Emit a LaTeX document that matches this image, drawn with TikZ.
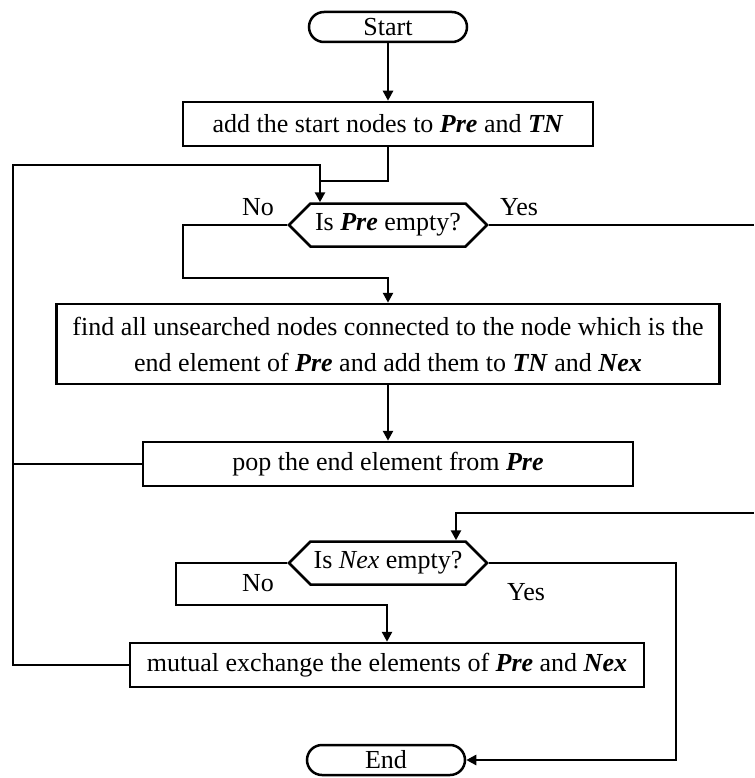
\documentclass[tikz,border=0pt]{standalone}
\usepackage{fontspec}
\setmainfont{Liberation Serif}
\usetikzlibrary{arrows.meta,shapes.symbols,positioning}
\newcommand{\setvar}[1]{\textbf{\textit{#1}}}
\begin{document}
\begin{tikzpicture}[x=1pt,y=-1pt,line width=2.5pt,
  every node/.style={font=\fontsize{26}{36}\selectfont},
  flow/.style={-{Triangle[length=10pt,width=10pt]}},
  term/.style={draw,rounded corners=15pt,minimum width=158pt,minimum height=30pt,inner sep=0pt},
  proc/.style={draw,minimum height=44pt,inner sep=0pt},
  test/.style={draw,signal,signal to=west and east,signal pointer angle=90,
    minimum width=198pt,minimum height=43pt,inner sep=0pt}]
\useasboundingbox (0,0) rectangle (754,778);
% Draw boxes
\node[term] (start) at (388,27) {Start};
\node[proc,minimum width=410pt] (add) at (388,124) {add the start nodes to \setvar{Pre} and \setvar{TN}};
\node[test] (pre) at (388,225) {Is \setvar{Pre} empty?};
\node[proc,align=center,minimum height=80pt,inner xsep=16pt] (find) at (388,344)
  {find all unsearched nodes connected to the node which is the\\end element of \setvar{Pre} and add them to \setvar{TN} and \setvar{Nex}};
\node[proc,minimum width=490pt] (pop) at (388,464) {pop the end element from \setvar{Pre}};
\node[test] (nex) at (388,563) {Is \textit{Nex} empty?};
\node[proc,minimum width=514pt] (swap) at (387,665) {mutual exchange the elements of \setvar{Pre} and \setvar{Nex}};
\node[term] (stop) at (386,760) {End};
% Draw labels
\node (no1) at (258,207) {No};
\node (yes1) at (519,207) {Yes};
\node (no2) at (258,583) {No};
\node (yes2) at (526,592) {Yes};
% Draw connectors
\coordinate (in1) at (320,181);
\coordinate (loop) at (13,165);
\coordinate (outA) at (754,225);
\coordinate (outB) at (754,513);
\draw[flow] (start) -- (add);
\draw[flow] (add) |- (in1) -- (in1 |- pre.north);
\draw (pop.west) -| (loop) -| (in1);
\draw (swap.west) -| (pop.west -| loop);
\draw[flow] (pre.west) -| (183,278) -| (find.north);
\draw (pre.east) -- (outA);
\draw[flow] (find) -- (pop);
\draw[flow] (outB) -| ([xshift=68pt]nex.north);
\draw[flow] (nex.west) -| (176,605) -| (swap.north);
\draw[flow] (nex.east) -| (676,760) -- (stop.east);
\end{tikzpicture}
\end{document}
